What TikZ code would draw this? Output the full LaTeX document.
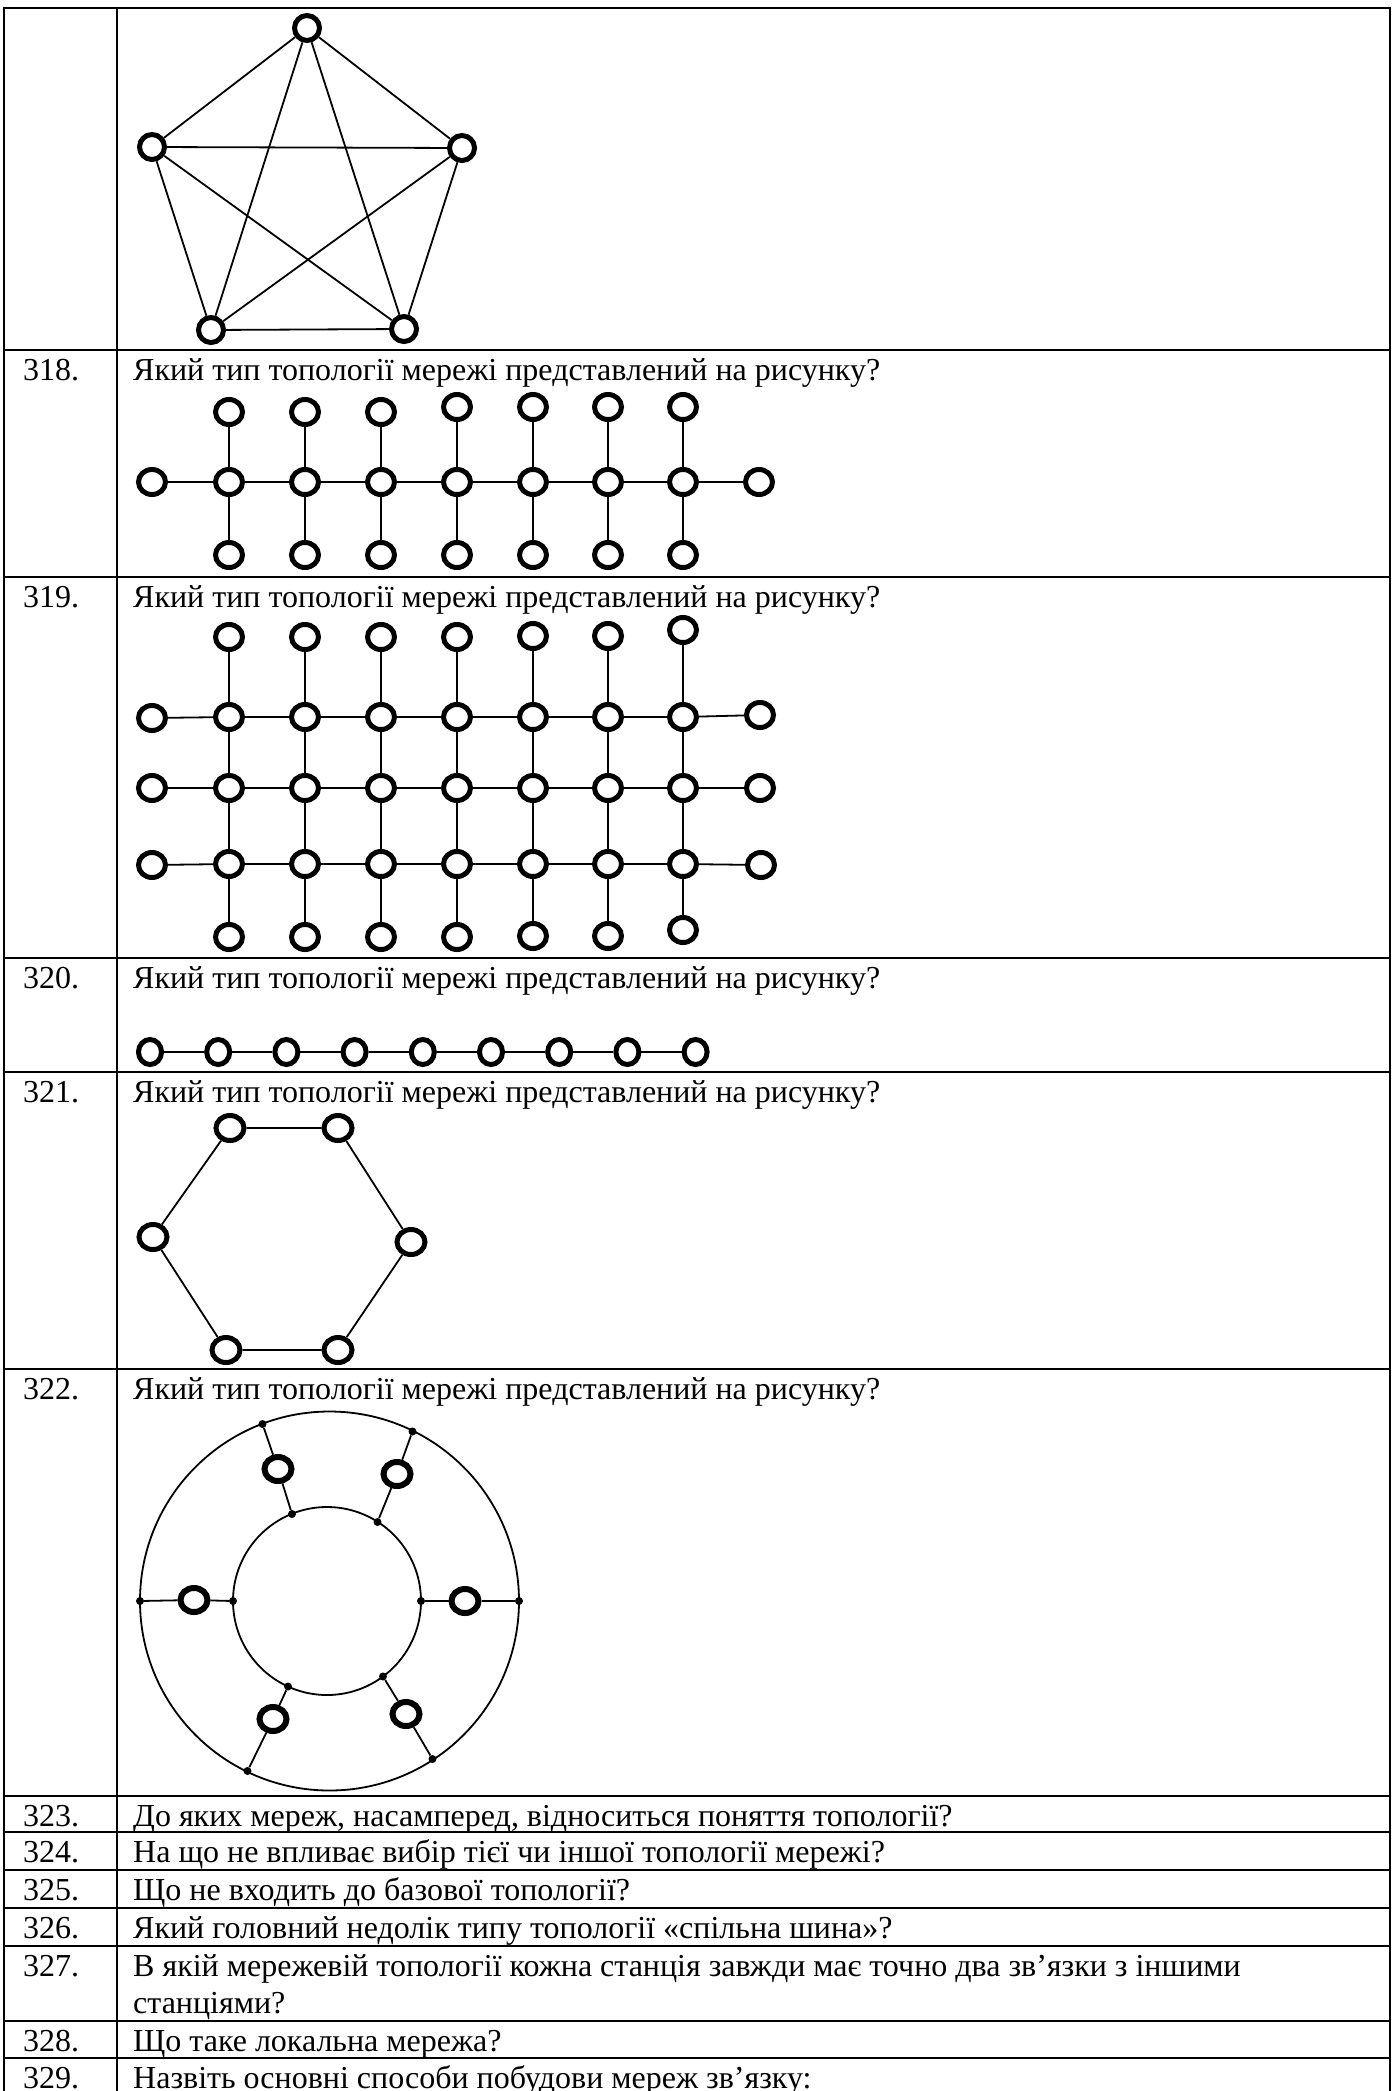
\documentclass[tikz,border=0pt]{standalone}
\usepackage{fontspec}
\setmainfont{Liberation Serif}
\usetikzlibrary{shapes.geometric}
\begin{document}
\begin{tikzpicture}[x=1pt,y=-1pt,
  pnode/.style={circle,draw,line width=5pt,fill=white,inner sep=0pt,minimum size=25pt},
  gnode/.style={ellipse,draw,line width=5pt,fill=white,inner sep=0pt,minimum width=27pt,minimum height=25pt},
  bnode/.style={ellipse,draw,line width=5pt,fill=white,inner sep=0pt,minimum width=23pt,minimum height=25pt},
  hnode/.style={ellipse,draw,line width=5pt,fill=white,inner sep=0pt,minimum width=28pt,minimum height=25pt},
  snode/.style={ellipse,draw,line width=6pt,fill=white,inner sep=0pt,minimum width=27pt,minimum height=24pt},
  dotn/.style={circle,fill=black,inner sep=0pt,minimum size=8pt},
  edge/.style={line width=1.8pt},
  rule/.style={line width=2.2pt},
  txt/.style={anchor=base west,inner sep=0pt,font=\fontsize{32}{37.7}\selectfont}]
\useasboundingbox (0,0) rectangle (1394,2091);
\fill[white] (0,0) rectangle (1394,2091);

% table rules
\coordinate (tl) at (4,8);
\coordinate (tr) at (1390,8);
\coordinate (bl) at (4,2091);
\coordinate (br) at (1390,2091);
\coordinate (dt) at (117,8);
\coordinate (db) at (117,2091);
\draw[rule] (bl) -- (tl) -- (tr) -- (br);
\draw[rule] (dt) -- (db);
\foreach \y in {350,577,958,1072,1369,1796,1832,1870,1908,1946,2021,2058}{
  \draw[rule] (4,\y) -- (1390,\y);
}

% texts
\node[txt] (n318) at (23,380) {318.};
\node[txt] (q318) at (133,380) {Який тип топології мережі представлений на рисунку?};
\node[txt] (n319) at (23,607) {319.};
\node[txt] (q319) at (133,607) {Який тип топології мережі представлений на рисунку?};
\node[txt] (n320) at (23,988) {320.};
\node[txt] (q320) at (133,988) {Який тип топології мережі представлений на рисунку?};
\node[txt] (n321) at (23,1102) {321.};
\node[txt] (q321) at (133,1102) {Який тип топології мережі представлений на рисунку?};
\node[txt] (n322) at (23,1399) {322.};
\node[txt] (q322) at (133,1399) {Який тип топології мережі представлений на рисунку?};
\node[txt] (n323) at (23,1826) {323.};
\node[txt] (q323) at (133,1826) {До яких мереж, насамперед, відноситься поняття топології?};
\node[txt] (n324) at (23,1862) {324.};
\node[txt] (q324) at (133,1862) {На що не впливає вибір тієї чи іншої топології мережі?};
\node[txt] (n325) at (23,1900) {325.};
\node[txt] (q325) at (133,1900) {Що не входить до базової топології?};
\node[txt] (n326) at (23,1938) {326.};
\node[txt] (q326) at (133,1938) {Який головний недолік типу топології «спільна шина»?};
\node[txt] (n327) at (23,1976) {327.};
\node[txt] (q327) at (133,1976) {В якій мережевій топології кожна станція завжди має точно два зв’язки з іншими};
\node[txt] (q327b) at (133,2013) {станціями?};
\node[txt] (n328) at (23,2051) {328.};
\node[txt] (q328) at (133,2051) {Що таке локальна мережа?};
\node[txt] (n329) at (23,2088) {329.};
\node[txt] (q329) at (133,2088) {Назвіть основні способи побудови мереж зв’язку:};

% 317: full mesh pentagon
\node[pnode] (p1) at (307,28) {};
\node[pnode] (p2) at (152,147) {};
\node[pnode] (p3) at (462,148) {};
\node[pnode] (p4) at (211,330) {};
\node[pnode] (p5) at (404,329) {};
\draw[edge] (p1) -- (p2); \draw[edge] (p1) -- (p3);
\draw[edge] (p1) -- (p4); \draw[edge] (p1) -- (p5);
\draw[edge] (p2) -- (p3); \draw[edge] (p2) -- (p4);
\draw[edge] (p2) -- (p5); \draw[edge] (p3) -- (p4);
\draw[edge] (p3) -- (p5); \draw[edge] (p4) -- (p5);

% 318: tree / comb
\node[gnode] (a0) at (152,482) {};
\node[gnode] (a8) at (759,482) {};
\foreach \i/\x/\yt in {1/229/412,2/305/412,3/381/412,4/457/407,5/533/407,6/608/407,7/683/407}{
  \node[gnode] (at\i) at (\x,\yt) {};
  \node[gnode] (am\i) at (\x,482) {};
  \node[gnode] (ab\i) at (\x,555) {};
  \draw[edge] (at\i) -- (am\i) -- (ab\i);
}
\draw[edge] (a0) -- (am1) -- (am2) -- (am3) -- (am4) -- (am5) -- (am6) -- (am7) -- (a8);

% 319: grid
\node[gnode] (g1l) at (152,718) {};
\node[gnode] (g2l) at (152,788) {};
\node[gnode] (g3l) at (152,865) {};
\node[gnode] (g1r) at (760,715) {};
\node[gnode] (g2r) at (760,788) {};
\node[gnode] (g3r) at (761,865) {};
\foreach \i/\x/\yt/\yb in {1/229/637/937,2/305/637/937,3/381/637/937,4/457/637/937,5/533/636/936,6/608/636/936,7/683/630/930}{
  \node[gnode] (gt\i) at (\x,\yt) {};
  \node[gnode] (ga\i) at (\x,717) {};
  \node[gnode] (gb\i) at (\x,788) {};
  \node[gnode] (gc\i) at (\x,864) {};
  \node[gnode] (gd\i) at (\x,\yb) {};
  \draw[edge] (gt\i) -- (ga\i) -- (gb\i) -- (gc\i) -- (gd\i);
}
\draw[edge] (g1l) -- (ga1) -- (ga2) -- (ga3) -- (ga4) -- (ga5) -- (ga6) -- (ga7) -- (g1r);
\draw[edge] (g2l) -- (gb1) -- (gb2) -- (gb3) -- (gb4) -- (gb5) -- (gb6) -- (gb7) -- (g2r);
\draw[edge] (g3l) -- (gc1) -- (gc2) -- (gc3) -- (gc4) -- (gc5) -- (gc6) -- (gc7) -- (g3r);

% 320: bus
\foreach \i in {0,...,8}{
  \node[bnode] (b\i) at ({150+68.2*\i},1052) {};
}
\draw[edge] (b0) -- (b1) -- (b2) -- (b3) -- (b4) -- (b5) -- (b6) -- (b7) -- (b8);

% 321: ring
\node[hnode] (h1) at (230,1128) {};
\node[hnode] (h2) at (338,1128) {};
\node[hnode] (h3) at (411,1242) {};
\node[hnode] (h4) at (338,1350) {};
\node[hnode] (h5) at (226,1350) {};
\node[hnode] (h6) at (153,1237) {};
\draw[edge] (h1) -- (h2) -- (h3) -- (h4) -- (h5) -- (h6) -- (h1);

% 322: double ring
\draw[edge] (329.5,1601) circle (189.5);
\draw[edge] (327,1601) circle (94);
\node[dotn] (o1) at (262.5,1424) {};
\node[dotn] (o2) at (412.5,1431.5) {};
\node[dotn] (o3) at (140,1601) {};
\node[dotn] (o4) at (519,1601) {};
\node[dotn] (o5) at (247.5,1771) {};
\node[dotn] (o6) at (432.5,1759) {};
\node[dotn] (i1) at (292,1514) {};
\node[dotn] (i2) at (377.5,1522) {};
\node[dotn] (i3) at (233,1601) {};
\node[dotn] (i4) at (421,1601) {};
\node[dotn] (i5) at (288,1686.5) {};
\node[dotn] (i6) at (383,1676.5) {};
\node[snode] (s1) at (278,1469) {};
\node[snode] (s2) at (397,1474) {};
\node[snode] (s3) at (194,1600) {};
\node[snode] (s4) at (465,1601) {};
\node[snode] (s5) at (273,1719) {};
\node[snode] (s6) at (406,1714) {};
\foreach \k in {1,...,6}{
  \draw[edge] (o\k) -- (s\k) -- (i\k);
}
\end{tikzpicture}
\end{document}
